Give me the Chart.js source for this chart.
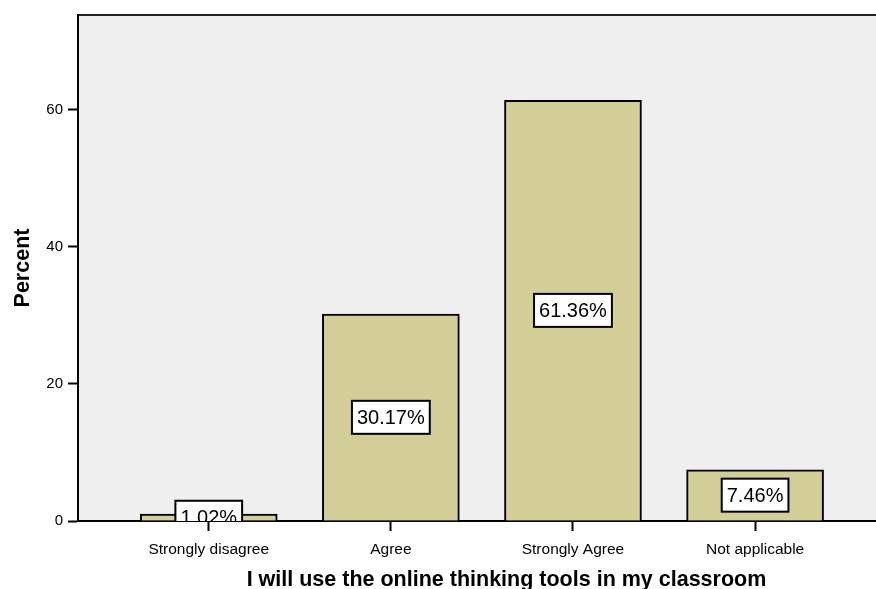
<!DOCTYPE html>
<html>
<head>
<meta charset="utf-8">
<script src="https://cdn.jsdelivr.net/npm/chart.js@4.4.1/dist/chart.umd.min.js"></script>
<style>
  html, body { margin: 0; padding: 0; background: #fff; overflow: hidden; width: 876px; height: 589px; }
  /* the plot runs on past the right edge of the picture, as in the original */
  #wrap { width: 935px; height: 589px; }
</style>
</head>
<body>
<div id="wrap"><canvas id="barChart"></canvas></div>
<script>
const categories = ['Strongly disagree', 'Agree', 'Strongly Agree', 'Not applicable'];
const percents = [1.02, 30.17, 61.36, 7.46];
const yTicks = [0, 20, 40, 60];

const font = "'Liberation Sans', Arial, Helvetica, sans-serif";

// grey plot background and the top frame line
const plotFrame = {
    id: 'plotFrame',
    beforeDraw(chart) {
        const { ctx, chartArea: a } = chart;
        ctx.save();
        ctx.fillStyle = '#efefef';
        ctx.fillRect(a.left, a.top, a.right - a.left, a.bottom - a.top);
        ctx.strokeStyle = '#222';
        ctx.lineWidth = 2;
        ctx.beginPath();
        ctx.moveTo(a.left, a.top);
        ctx.lineTo(a.right, a.top);
        ctx.stroke();
        ctx.restore();
    }
};

// boxed percentage in the middle of each bar
const boxLabels = {
    id: 'boxLabels',
    afterDatasetsDraw(chart) {
        const { ctx, chartArea: a } = chart;
        const meta = chart.getDatasetMeta(0);
        ctx.save();
        ctx.beginPath();
        ctx.rect(a.left, a.top, a.right - a.left, a.bottom - a.top);
        ctx.clip();
        ctx.font = '20px ' + font;
        ctx.textAlign = 'center';
        ctx.textBaseline = 'middle';
        meta.data.forEach((bar, i) => {
            const text = percents[i].toFixed(2) + '%';
            const w = ctx.measureText(text).width + 10;
            const h = 33;
            const cx = bar.x;
            const cy = (bar.y + bar.base) / 2;
            ctx.fillStyle = '#fff';
            ctx.fillRect(cx - w / 2, cy - h / 2, w, h);
            ctx.strokeStyle = '#000';
            ctx.lineWidth = 2;
            ctx.strokeRect(cx - w / 2, cy - h / 2, w, h);
            ctx.fillStyle = '#000';
            ctx.fillText(text, cx, cy + 1);
        });
        ctx.restore();
    }
};

const ctx = document.getElementById('barChart').getContext('2d');
new Chart(ctx, {
    type: 'bar',
    data: {
        datasets: [{
            data: percents.map((v, i) => ({ x: i, y: v })),
            backgroundColor: '#d3ce97',
            borderColor: '#000',
            borderWidth: 2,
            borderSkipped: 'bottom',
            barThickness: 137
        }]
    },
    plugins: [plotFrame, boxLabels],
    options: {
        responsive: true,
        maintainAspectRatio: false,
        animation: false,
        layout: { padding: { top: 15, left: 0, right: 0, bottom: 0 } },
        plugins: {
            legend: { display: false },
            tooltip: { enabled: false }
        },
        scales: {
            x: {
                type: 'linear',
                offset: false,
                min: -0.718,
                max: 3.988,
                afterBuildTicks: axis => { axis.ticks = categories.map((c, i) => ({ value: i })); },
                afterFit: scale => { scale.height = 68; },
                ticks: {
                    callback: value => categories[value],
                    color: '#000',
                    font: { family: font, size: 15.5 },
                    padding: 9,
                    maxRotation: 0,
                    autoSkip: false
                },
                grid: {
                    offset: false,
                    drawOnChartArea: false,
                    drawTicks: true,
                    tickLength: 10,
                    tickColor: '#000',
                    tickWidth: 2
                },
                border: { display: true, color: '#000', width: 2 },
                title: {
                    display: true,
                    text: 'I will use the online thinking tools in my classroom',
                    color: '#000',
                    font: { family: font, size: 21.5, weight: 'bold', lineHeight: 0.8 },
                    padding: { top: 0, bottom: 0 }
                }
            },
            y: {
                min: 0,
                max: 73.8,
                afterBuildTicks: axis => { axis.ticks = yTicks.map(v => ({ value: v })); },
                afterFit: scale => { scale.width = 78; },
                ticks: {
                    color: '#000',
                    font: { family: font, size: 15 },
                    padding: 5
                },
                grid: {
                    drawOnChartArea: false,
                    drawTicks: true,
                    tickLength: 10,
                    tickColor: '#000',
                    tickWidth: 2
                },
                border: { display: true, color: '#000', width: 2 },
                title: {
                    display: true,
                    text: 'Percent',
                    color: '#000',
                    font: { family: font, size: 21.5, weight: 'bold', lineHeight: 1 },
                    padding: { top: 12, bottom: 0 }
                }
            }
        }
    }
});
</script>
</body>
</html>
